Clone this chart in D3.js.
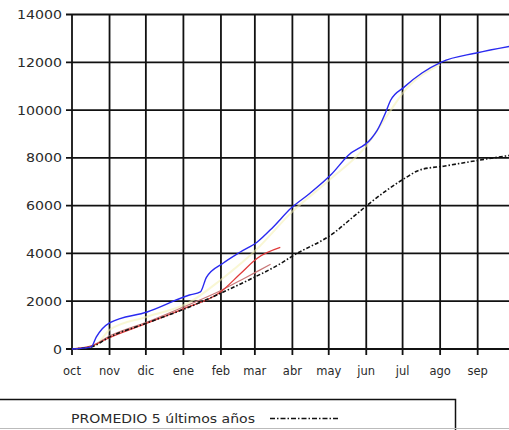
<!DOCTYPE html>
<html>
<head>
<meta charset="utf-8">
<script src="https://cdn.jsdelivr.net/npm/d3@7"></script>
<style>
  html, body { margin: 0; padding: 0; background: #fff; }
  svg { display: block; }
  text { font-family: "DejaVu Sans", Arial, sans-serif; fill: #2a2a2a; }
</style>
</head>
<body>
<svg id="chart" width="509" height="430"></svg>
<script>
// ---- data ----
const monthLabels = ["oct","nov","dic","ene","feb","mar","abr","may","jun","jul","ago","sep"];
const yTicks = [0, 2000, 4000, 6000, 8000, 10000, 12000, 14000];

const actual = [
  ["2001-10-01",0],["2001-10-17",90],["2001-10-21",500],["2001-10-26",850],["2001-11-01",1090],
  ["2001-12-02",1550],["2002-01-06",2260],["2002-01-15",2390],["2002-01-20",3000],["2002-02-03",3600],
  ["2002-02-17",4060],["2002-03-03",4480],["2002-03-16",5100],["2002-03-31",5900],["2002-04-15",6500],
  ["2002-05-03",7300],["2002-05-17",8100],["2002-06-05",8800],["2002-06-10",9150],["2002-06-17",9900],
  ["2002-06-21",10400],["2002-07-02",10950],["2002-07-17",11550],["2002-08-02",12010],["2002-08-31",12390],
  ["2002-10-01",12700]
];
const shadow = [
  ["2001-10-01",0],["2001-10-20",150],["2001-11-01",800],["2001-12-02",1350],["2002-01-06",1950],
  ["2002-02-01",2900],["2002-03-01",4100],["2002-04-01",5750],["2002-05-01",7050],["2002-06-01",8500],
  ["2002-06-20",9900],["2002-07-01",10700],["2002-08-01",11900]
];
const promedio = [
  ["2001-10-01",0],["2001-10-17",90],["2001-11-01",500],["2001-12-02",1090],["2002-01-06",1760],
  ["2002-02-01",2340],["2002-02-24",2890],["2002-03-23",3600],["2002-04-01",3890],["2002-05-05",4850],
  ["2002-05-21",5520],["2002-06-05",6150],["2002-07-03",7150],["2002-07-15",7490],["2002-08-05",7660],
  ["2002-09-03",7910],["2002-10-01",8130]
];
const redYear = [
  ["2001-10-01",0],["2001-10-17",120],["2001-11-01",480],["2001-12-02",1080],["2002-01-01",1680],
  ["2002-02-01",2400],["2002-02-17",3150],["2002-03-03",3800],["2002-03-22",4250]
];
const pinkYear = [
  ["2001-10-01",0],["2001-10-17",130],["2001-11-01",540],["2001-12-02",1130],["2002-01-01",1760],
  ["2002-02-01",2450],["2002-02-20",2950],["2002-03-05",3300],["2002-03-14",3550]
];
const legendLabel = "PROMEDIO 5 últimos años";

// ---- scales ----
const parse = d3.timeParse("%Y-%m-%d");
const svg = d3.select("#chart");
const x = d3.scaleTime().domain([parse("2001-10-01"), parse("2002-10-01")]).range([72, 514]);
const y = d3.scaleLinear().domain([0, 14000]).range([349, 14.5]);
const monthDates = d3.timeMonth.range(parse("2001-10-01"), parse("2002-10-01"));

// grid
const grid = svg.append("g");
grid.selectAll("line.h").data(yTicks).join("line")
  .attr("x1", 66).attr("x2", 514)
  .attr("y1", d => y(d)).attr("y2", d => y(d))
  .attr("stroke", "#111").attr("stroke-width", 1.8);
grid.selectAll("line.v").data(monthDates).join("line")
  .attr("x1", d => x(d)).attr("x2", d => x(d))
  .attr("y1", y(14000)).attr("y2", y(0) + 6)
  .attr("stroke", "#111").attr("stroke-width", 1.8);

// y labels
svg.append("g").selectAll("text").data(yTicks).join("text")
  .attr("x", 62).attr("y", d => y(d)).attr("dy", "0.36em")
  .attr("text-anchor", "end").attr("font-size", 12.5)
  .attr("textLength", d => String(d).length * 9)
  .attr("lengthAdjust", "spacingAndGlyphs")
  .text(d => d);

// x labels
svg.append("g").selectAll("text").data(monthDates).join("text")
  .attr("x", d => x(d)).attr("y", 375)
  .attr("text-anchor", "middle").attr("font-size", 11.5)
  .text((d, i) => monthLabels[i]);

// lines
const line = d3.line().x(d => x(parse(d[0]))).y(d => y(d[1])).curve(d3.curveMonotoneX);
const g = svg.append("g");
g.append("path").datum(shadow).attr("d", line).attr("fill", "none")
  .attr("stroke", "#f4f0b0").attr("stroke-width", 2).attr("opacity", 0.55);
g.append("path").datum(pinkYear).attr("d", line).attr("fill", "none")
  .attr("stroke", "#c87878").attr("stroke-width", 1.2);
g.append("path").datum(redYear).attr("d", line).attr("fill", "none")
  .attr("stroke", "#e03a3a").attr("stroke-width", 1.3);
g.append("path").datum(promedio).attr("d", line).attr("fill", "none")
  .attr("stroke", "#111").attr("stroke-width", 1.6).attr("stroke-dasharray", "4,2,1.5,2");
g.append("path").datum(actual).attr("d", line).attr("fill", "none")
  .attr("stroke", "#2a2af0").attr("stroke-width", 1.4);

// legend
const lg = svg.append("g");
lg.append("rect").attr("x", -3).attr("y", 399.5).attr("width", 458.5).attr("height", 45)
  .attr("fill", "#fff").attr("stroke", "#111").attr("stroke-width", 1.5);
lg.append("text").attr("x", 71).attr("y", 423).attr("font-size", 12)
  .attr("textLength", 184).attr("lengthAdjust", "spacingAndGlyphs")
  .text(legendLabel);
lg.append("line").attr("x1", 270).attr("x2", 338).attr("y1", 418.5).attr("y2", 418.5)
  .attr("stroke", "#111").attr("stroke-width", 1.5).attr("stroke-dasharray", "5,2,1.5,2");
svg.append("line").attr("x1", 0).attr("x2", 509).attr("y1", 428.5).attr("y2", 428.5)
  .attr("stroke", "#bbb").attr("stroke-width", 1);
</script>
</body>
</html>
